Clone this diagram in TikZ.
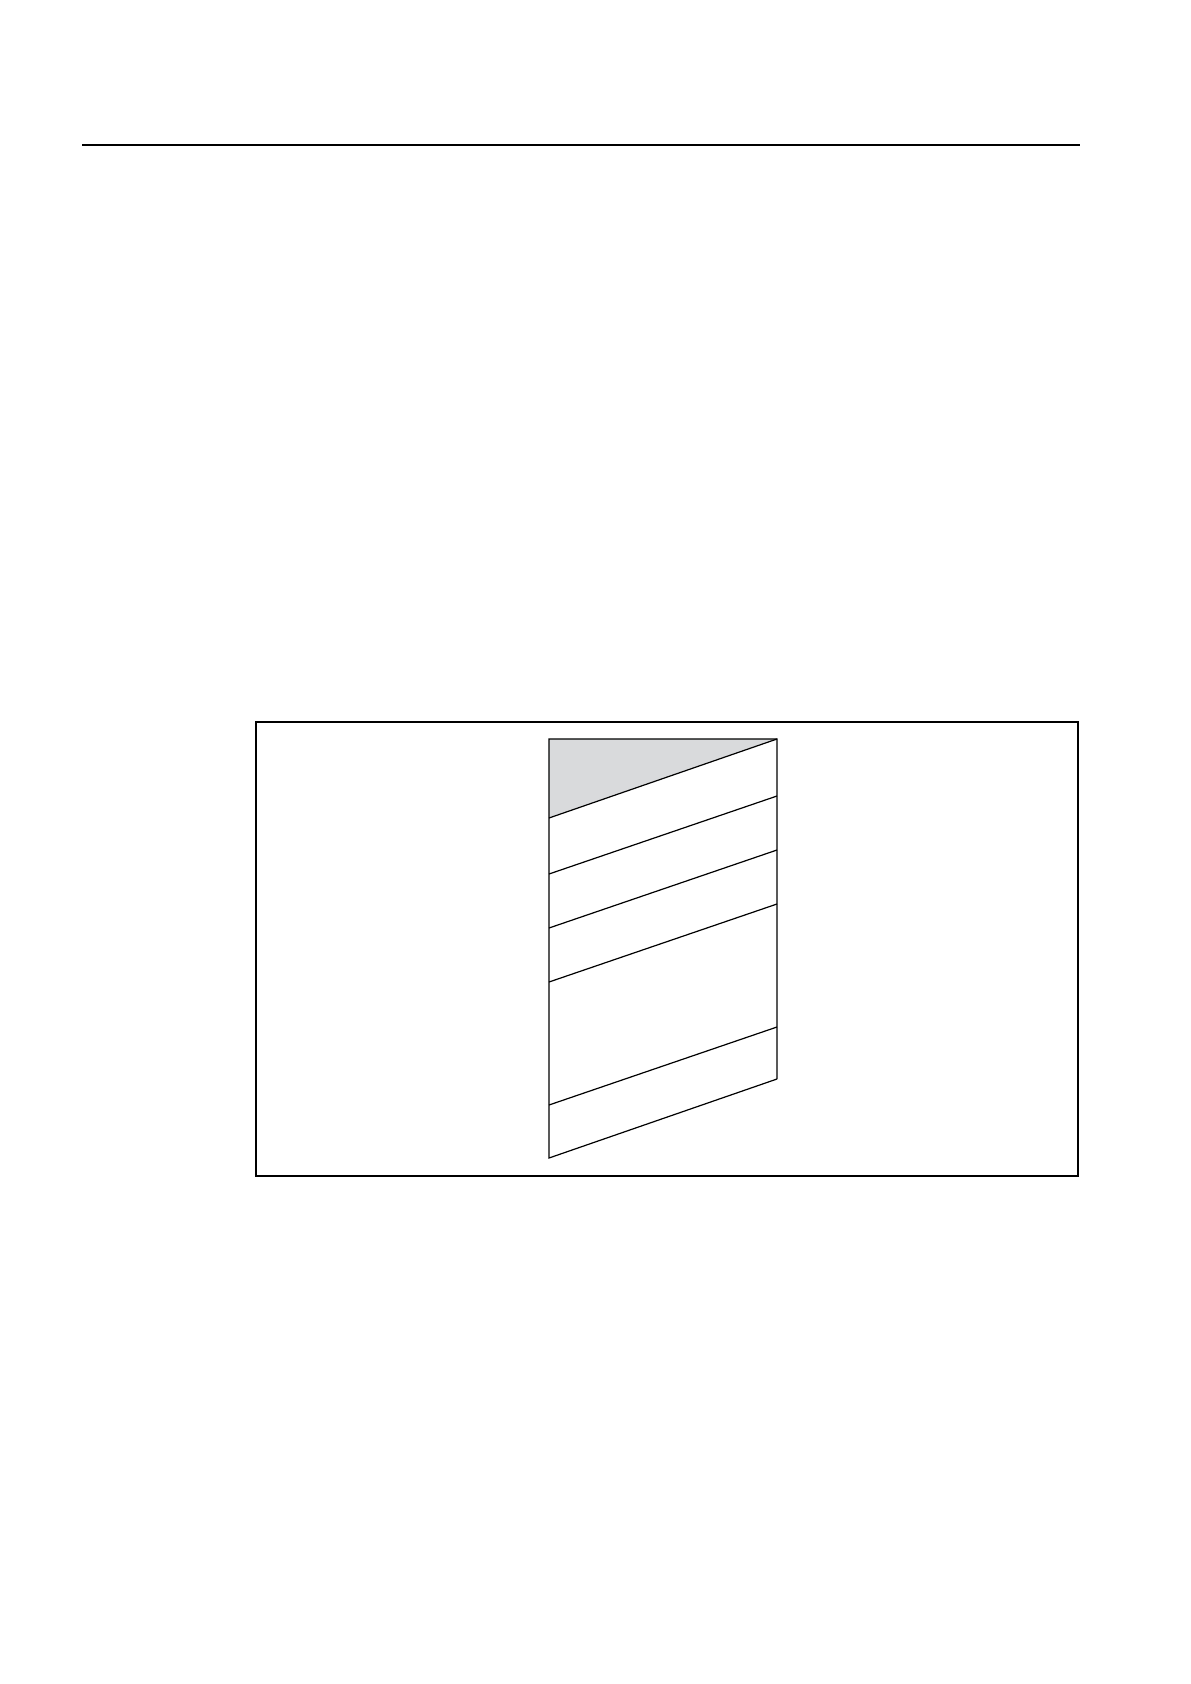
\documentclass[tikz,border=0pt]{standalone}
\usetikzlibrary{positioning}
\definecolor{wedgegray}{RGB}{217,218,220}
\tikzstyle{frameD} = [draw=black, line width=0.8pt]
\tikzstyle{layer} = [draw=black, line width=0.6pt]
\tikzstyle{rule} = [draw=black, line width=0.65pt]

\begin{document}
\begin{tikzpicture}[x=0.5pt, y=-0.5pt]
\useasboundingbox (0,0) rectangle (1190,1684);

% Define coordinates
\coordinate (rl) at (82,145);
\coordinate (rr) at (1080,145);
\coordinate (fa) at (256,722);
\coordinate (fb) at (1078,1176);
\coordinate (tl) at (549,739);
\coordinate (tr) at (777,739);
\coordinate (bl) at (549,1158);
\coordinate (br) at (777,1079);

% Gray wedge
\fill[wedgegray] (tl) -- (tr) -- (549,818) -- cycle;

% Rule and frame
\draw[rule]   (rl) -- (rr);
\draw[frameD] (fa) rectangle (fb);

% Outline
\draw[layer] (br) -- (tr) -- (tl) -- (bl) -- (br);

% Layers
\foreach \yl/\yr in {818/739, 874/796, 928/850, 982/904, 1105/1027}
  \draw[layer] (549,\yl) -- (777,\yr);

\end{tikzpicture}
\end{document}
